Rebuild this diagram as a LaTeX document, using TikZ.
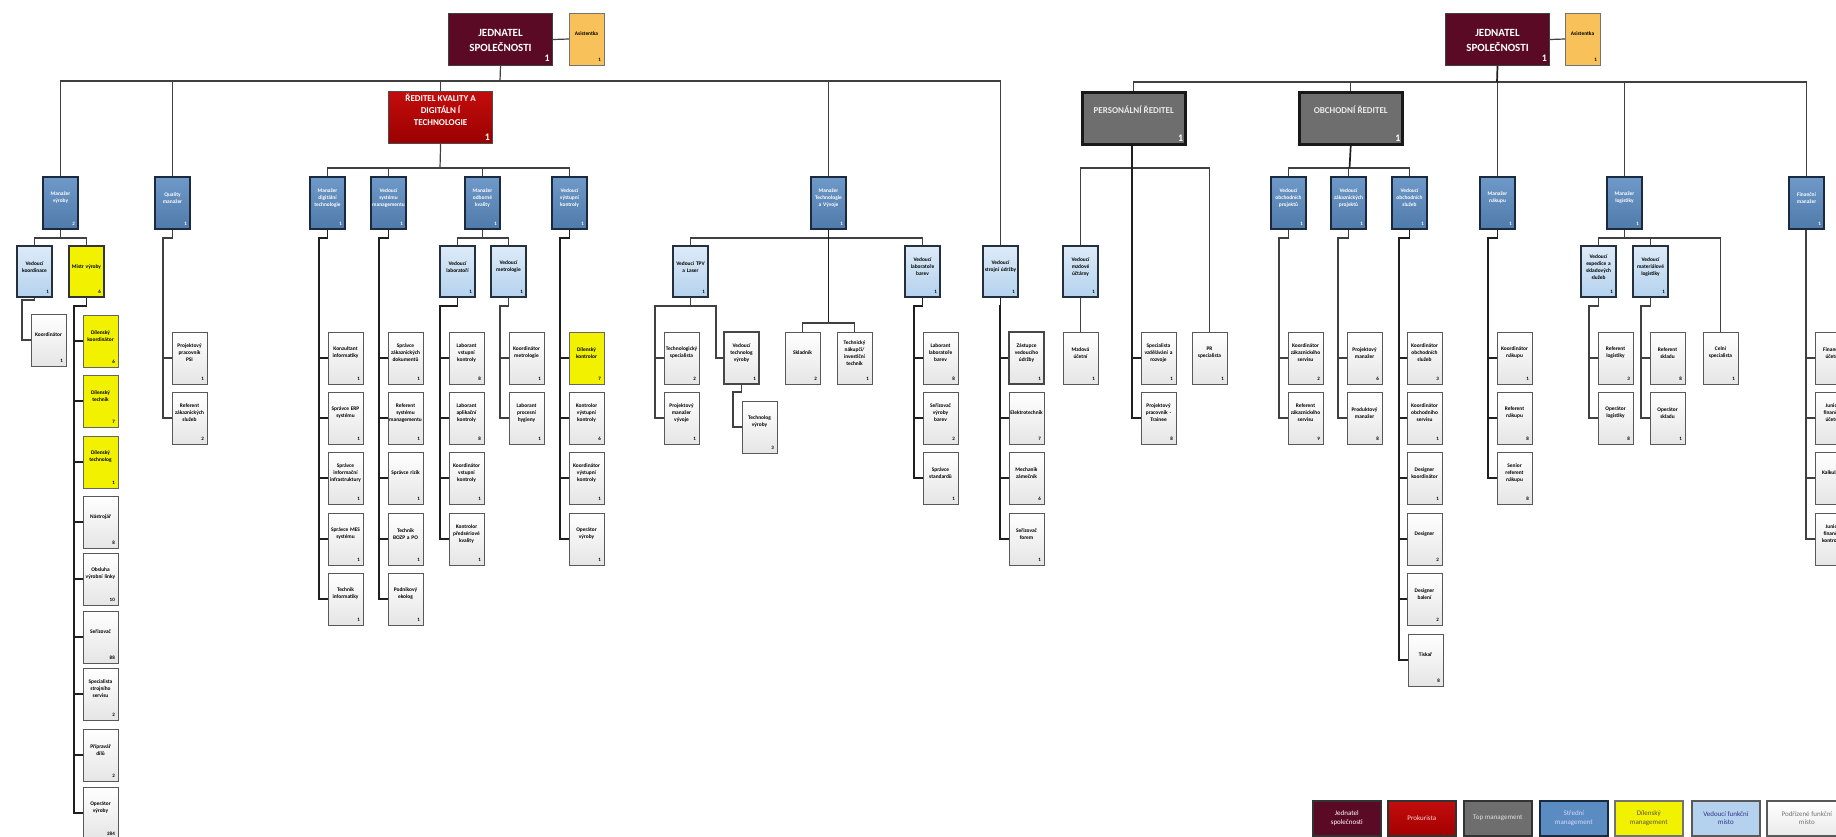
\documentclass[tikz,border=0pt]{standalone}
\usepackage{fontspec}
\setmainfont{Carlito}
\pgfdeclarelayer{bg}
\pgfsetlayers{bg,main}
\definecolor{jed}{HTML}{5A0A24}
\definecolor{asis}{HTML}{F8C15A}
\definecolor{prok}{HTML}{C00000}
\definecolor{topm}{HTML}{6E6E6E}
\definecolor{mid}{HTML}{5A8BC1}
\definecolor{midd}{HTML}{1C2A3F}
\definecolor{dil}{HTML}{F2F200}
\definecolor{ved}{HTML}{B4D2EE}
\definecolor{vedd}{HTML}{24303E}
\definecolor{ln}{HTML}{404040}
\tikzset{
 bx/.style={rectangle, inner sep=0pt, outer sep=0pt, minimum width=35pt, minimum height=52pt},
 wb/.style={bx, draw=black!65, line width=1pt, top color=white, bottom color=black!10},
 wbk/.style={wb, draw=black!72, line width=2.6pt},
 yb/.style={bx, fill=dil, draw=black!60, line width=1pt},
 ybs/.style={yb, minimum height=51pt, draw=black!80, line width=2pt},
 ab/.style={bx, fill=asis, draw=black!55, line width=1pt},
 mb/.style={bx, top color=mid!88!white, bottom color=mid!88!black, draw=midd, line width=2pt},
 lb/.style={bx, minimum height=51pt, top color=ved!45!white, bottom color=ved, draw=vedd, line width=2pt},
 tx/.style={font=\bfseries\fontsize{5.4}{7}\selectfont, align=center, text width=34pt, inner sep=0pt, anchor=center},
 nm/.style={font=\bfseries\fontsize{5}{5}\selectfont, inner sep=0pt, anchor=south east},
 bigt/.style={font=\bfseries\fontsize{11}{15}\selectfont, text=white, align=center, inner sep=0pt, anchor=center},
 midt/.style={font=\bfseries\fontsize{9}{12}\selectfont, text=white, align=center, inner sep=0pt, anchor=center},
 bign/.style={font=\bfseries\fontsize{10}{10}\selectfont, text=white, inner sep=0pt, anchor=south east, xshift=-3pt, yshift=4pt},
 cn/.style={draw=ln, line width=1.2pt},
 sp/.style={draw=black!88, line width=1.7pt},
 lg/.style={rectangle, anchor=north west, minimum width=68pt, minimum height=35pt, inner sep=1pt, align=center, font=\fontsize{7}{8.5}\selectfont, line width=1.6pt, draw=black!80},
}
\newcommand\ob[7][black]{%
 \node[#3, anchor=north west,
   label={[tx, text=#1, yshift=-21pt]north:{#6}},
   label={[nm, text=#1, xshift=-3pt, yshift=3.5pt]south east:{#7}}] (#2) at (#4,#5) {};}
\newcommand\tree[5]{%
 \draw[#1] (#2.south) -- ++(0,#3) -| ([xshift=-9pt]#4.west) -- (#4.west);
 \foreach \ch in {#5}{\draw[#1] ([xshift=-9pt]\ch.west) -- (\ch.west);}}
\begin{document}
\begin{tikzpicture}[x=1pt,y=-1pt]
\useasboundingbox (0,0) rectangle (1836,836);
\clip (0,0) rectangle (1836,836);

% ---------- top level ----------
\node[anchor=north west, minimum width=104pt, minimum height=52pt, inner sep=0pt, fill=jed, draw=black!75, line width=1pt,
  label={[bigt, yshift=-27.5pt]north:{JEDNATEL\\SPOLEČNOSTI}}, label={[bign]south east:1}] (jedL) at (448,13) {};
\ob{asiL}{ab}{569}{13}{Asistentka}{1}
\node[anchor=north west, minimum width=104pt, minimum height=52pt, inner sep=0pt, fill=jed, draw=black!75, line width=1pt,
  label={[bigt, yshift=-27.5pt]north:{JEDNATEL\\SPOLEČNOSTI}}, label={[bign]south east:1}] (jedR) at (1445,13) {};
\ob{asiR}{ab}{1565}{13}{Asistentka}{1}
\node[anchor=north west, minimum width=104pt, minimum height=52pt, inner sep=0pt, top color=prok!95!white, bottom color=prok!80!black, draw=black!70, line width=1.2pt,
  label={[midt, yshift=-19pt]north:{ŘEDITEL KVALITY A\\DIGITÁLN Í\\TECHNOLOGIE}}, label={[bign]south east:1}] (redK) at (388,91) {};
\node[anchor=north west, minimum width=103pt, minimum height=52pt, inner sep=0pt, fill=topm, draw=black!90, line width=2.5pt,
  label={[midt, text=black!8, yshift=-19pt]north:{PERSONÁLNÍ ŘEDITEL}}, label={[bign]south east:1}] (persR) at (1081,91) {};
\node[anchor=north west, minimum width=103pt, minimum height=52pt, inner sep=0pt, fill=topm, draw=black!90, line width=2.5pt,
  label={[midt, text=black!8, yshift=-19pt]north:{OBCHODNÍ ŘEDITEL}}, label={[bign]south east:1}] (obchR) at (1298,91) {};

% ---------- middle management ----------
\ob[white]{mVyr}{mb}{43}{177}{Manažer\\výroby}{2}
\ob[white]{mQ}{mb}{155}{177}{Quality\\manažer}{1}
\ob[white]{mDig}{mb}{310}{177}{Manažer\\digitální\\technologie}{1}
\ob[white]{vSys}{mb}{371}{177}{Vedoucí\\systému\\managementu}{1}
\ob[white]{mOdk}{mb}{465}{177}{Manažer\\odborné\\kvality}{1}
\ob[white]{vVyst}{mb}{552}{177}{Vedoucí\\výstupní\\kontroly}{1}
\ob[white]{mTaV}{mb}{811}{177}{Manažer\\Technologie\\a Vývoje}{1}
\ob[white]{vObP}{mb}{1271}{177}{Vedoucí\\obchodních\\projektů}{1}
\ob[white]{vZakP}{mb}{1331}{177}{Vedoucí\\zákaznických\\projektů}{1}
\ob[white]{vObS}{mb}{1392}{177}{Vedoucí\\obchodních\\služeb}{1}
\ob[white]{mNak}{mb}{1480}{177}{Manažer\\nákupu}{1}
\ob[white]{mLog}{mb}{1607}{177}{Manažer\\logistiky}{1}
\ob[white]{mFin}{mb}{1789}{177}{Finanční\\manažer}{1}

% ---------- leading positions ----------
\ob{vKoord}{lb}{17}{246}{Vedoucí\\koordinace}{1}
\ob{mistr}{ybs}{69}{246}{Mistr výroby}{6}
\ob{vLab}{lb}{440}{246}{Vedoucí\\laboratoří}{1}
\ob{vMet}{lb}{491}{246}{Vedoucí\\metrologie}{1}
\ob{vTPV}{lb}{673}{246}{Vedoucí TPV\\a Laser}{1}
\ob{vLabB}{lb}{905}{246}{Vedoucí\\laboratoře\\barev}{1}
\ob{vUdr}{lb}{983}{246}{Vedoucí\\strojní údržby}{1}
\ob{vMzd}{lb}{1063}{246}{Vedoucí\\mzdové\\účtárny}{1}
\ob{vExp}{lb}{1581}{246}{Vedoucí\\expedice a\\skladových\\služeb}{1}
\ob{vMat}{lb}{1633}{246}{Vedoucí\\materiálové\\logistiky}{1}

% ---------- subordinate positions ----------
\ob{koord}{wb}{31}{314}{Koordinátor}{1}
\ob{m1}{yb}{83}{315}{Dílenský\\koordinátor}{6}
\ob{m2}{yb}{83}{375}{Dílenský\\technik}{7}
\ob{m3}{yb}{83}{436}{Dílenský\\technolog}{1}
\ob{m4}{wb}{83}{496}{Nástrojář}{8}
\ob{m5}{wb}{83}{553}{Obsluha\\výrobní linky}{10}
\ob{m6}{wb}{83}{611}{Seřizovač}{88}
\ob{m7}{wb}{83}{668}{Specialista\\strojního\\servisu}{2}
\ob{m8}{wb}{83}{729}{Přípravář\\dílů}{2}
\ob{m9}{wb}{83}{787}{Operátor\\výroby}{284}

\ob{q1}{wb}{172}{332}{Projektový\\pracovník\\PSI}{1}
\ob{q2}{wb}{172}{392}{Referent\\zákaznických\\služeb}{2}

\ob{d1}{wb}{328}{332}{Konzultant\\informatiky}{1}
\ob{d2}{wb}{328}{392}{Správce ERP\\systému}{1}
\ob{d3}{wb}{328}{452}{Správce\\informační\\infrastruktury}{1}
\ob{d4}{wb}{328}{513}{Správce MES\\systému}{1}
\ob{d5}{wb}{328}{573}{Technik\\informatiky}{1}

\ob{s1}{wb}{388}{332}{Správce\\zákaznických\\dokumentů}{1}
\ob{s2}{wb}{388}{392}{Referent\\systému\\managementu}{1}
\ob{s3}{wb}{388}{452}{Správce rizik}{1}
\ob{s4}{wb}{388}{513}{Technik\\BOZP a PO}{1}
\ob{s5}{wb}{388}{573}{Podnikový\\ekolog}{1}

\ob{l1}{wb}{449}{332}{Laborant\\vstupní\\kontroly}{8}
\ob{l2}{wb}{449}{392}{Laborant\\aplikační\\kontroly}{8}
\ob{l3}{wb}{449}{452}{Koordinátor\\vstupní\\kontroly}{1}
\ob{l4}{wb}{449}{513}{Kontrolor\\předsériové\\kvality}{1}

\ob{e1}{wb}{509}{332}{Koordinátor\\metrologie}{1}
\ob{e2}{wb}{509}{392}{Laborant\\procesní\\hygieny}{1}

\ob{k1}{yb}{569}{332}{Dílenský\\kontrolor}{7}
\ob{k2}{wb}{569}{392}{Kontrolor\\výstupní\\kontroly}{6}
\ob{k3}{wb}{569}{452}{Koordinátor\\výstupní\\kontroly}{1}
\ob{k4}{wb}{569}{513}{Operátor\\výroby}{1}

\ob{t1}{wb}{664}{332}{Technologický\\specialista}{2}
\ob{t2}{wb}{664}{392}{Projektový\\manažer\\vývoje}{1}
\ob{vTech}{wbk}{724}{332}{Vedoucí\\technolog\\výroby}{1}
\ob{tech}{wb}{742}{401}{Technolog\\výroby}{3}
\ob{skl}{wb}{785}{332}{Skladník}{2}
\ob{tni}{wb}{837}{332}{Technický\\nákupčí/\\investiční\\technik}{1}

\ob{b1}{wb}{923}{332}{Laborant\\laboratoře\\barev}{8}
\ob{b2}{wb}{923}{392}{Seřizovač\\výroby\\barev}{2}
\ob{b3}{wb}{923}{452}{Správce\\standardů}{1}

\ob{u1}{wbk}{1009}{332}{Zástupce\\vedoucího\\údržby}{1}
\ob{u2}{wb}{1009}{392}{Elektrotechnik}{7}
\ob{u3}{wb}{1009}{452}{Mechanik\\zámečník}{6}
\ob{u4}{wb}{1009}{513}{Seřizovač\\forem}{1}

\ob{mzd}{wb}{1063}{332}{Mzdová\\účetní}{1}
\ob{p1}{wb}{1141}{332}{Specialista\\vzdělávání a\\rozvoje}{1}
\ob{p2}{wb}{1141}{392}{Projektový\\pracovník -\\Trainee}{8}
\ob{prS}{wb}{1192}{332}{PR\\specialista}{1}

\ob{o1}{wb}{1288}{332}{Koordinátor\\zákaznického\\servisu}{2}
\ob{o2}{wb}{1288}{392}{Referent\\zákaznického\\servisu}{9}
\ob{z1}{wb}{1347}{332}{Projektový\\manažer}{6}
\ob{z2}{wb}{1347}{392}{Produktový\\manažer}{8}

\ob{c1}{wb}{1407}{332}{Koordinátor\\obchodních\\služeb}{3}
\ob{c2}{wb}{1407}{392}{Koordinátor\\obchodního\\servisu}{1}
\ob{c3}{wb}{1407}{452}{Designer\\koordinátor}{1}
\ob{c4}{wb}{1407}{513}{Designer}{2}
\ob{c5}{wb}{1407}{573}{Designer\\balení}{2}
\ob{c6}{wb}{1408}{634}{Tiskař}{8}

\ob{n1}{wb}{1497}{332}{Koordinátor\\nákupu}{1}
\ob{n2}{wb}{1497}{392}{Referent\\nákupu}{8}
\ob{n3}{wb}{1497}{452}{Senior\\referent\\nákupu}{8}

\ob{x1}{wb}{1598}{332}{Referent\\logistiky}{3}
\ob{x2}{wb}{1598}{392}{Operátor\\logistiky}{8}
\ob{a1}{wb}{1650}{332}{Referent\\skladu}{8}
\ob{a2}{wb}{1650}{392}{Operátor\\skladu}{1}
\ob{celni}{wb}{1703}{332}{Celní\\specialista}{1}

\ob{f1}{wb}{1815}{332}{Finanční\\účetní}{}
\ob{f2}{wb}{1815}{392}{Junior\\finanční\\účetní}{}
\ob{f3}{wb}{1815}{452}{Kalkulant}{}
\ob{f4}{wb}{1815}{513}{Junior\\finanční\\kontrolor}{}

% ---------- legend ----------
\node[lg, fill=jed, text=white] (lg1) at (1312,800) {Jednatel\\společnosti};
\node[lg, top color=prok!95!white, bottom color=prok!85!black, text=white!85!red] (lg2) at (1387,800) {Prokurista};
\node[lg, fill=topm, text=black!12] (lg3) at (1463,800) {Top management};
\node[lg, fill=mid, draw=midd, text=white!85!blue] (lg4) at (1539,800) {Střední\\management};
\node[lg, fill=dil, draw=black!55, text=black!75!yellow] (lg5) at (1614,800) {Dílenský\\management};
\node[lg, fill=ved, draw=black!65, text=black!45!blue!60!gray] (lg6) at (1691,800) {Vedoucí funkční\\místo};
\node[lg, minimum width=80pt, top color=white, bottom color=black!8, draw=black!65, text=black!55] (lg7) at (1766,800) {Podřízené funkční\\místo};

% ---------- connectors ----------
\begin{pgfonlayer}{bg}
\fill[white] (0,0) rectangle (1836,836);
\draw[cn] (jedL.east) -- (asiL.west);
\draw[cn] (jedR.east) -- (asiR.west);
\coordinate (bL) at (500,81);
\draw[cn] (mVyr.north) |- (bL) -| (vUdr.north);
\draw[cn] (jedL.south) -- (bL);
\foreach \n in {mQ,redK,mTaV} \draw[cn] (\n.north) -- (\n.north |- bL);
\coordinate (bR) at (1497,82);
\draw[cn] (persR.north) |- (bR) -| (mFin.north);
\draw[sp] (jedR.south) -- (bR);
\foreach \n in {obchR,mNak,mLog} \draw[cn] (\n.north) -- (\n.north |- bR);
\coordinate (bK) at (440,168);
\draw[cn] (mDig.north) |- (bK) -| (vVyst.north);
\draw[cn] (redK.south) -- (bK);
\foreach \n in {vSys,mOdk} \draw[cn] (\n.north) -- (\n.north |- bK);
\coordinate (bV) at (60.5,238);
\draw[cn] (vKoord.north) |- (bV) -| (mistr.north);
\draw[cn] (mVyr.south) -- (bV);
\coordinate (bQ) at (482.5,238);
\draw[cn] (vLab.north) |- (bQ) -| (vMet.north);
\draw[cn] (mOdk.south) -- (bQ);
\coordinate (bT) at (828.5,238);
\draw[cn] (vTPV.north) |- (bT) -| (vLabB.north);
\coordinate (bT2) at (828.5,323);
\draw[sp] (mTaV.south) -- (bT2);
\draw[cn] (skl.north) |- (bT2) -| (tni.north);
\coordinate (bP) at (1132.5,168);
\draw[cn] (vMzd.north) |- (bP) -| (prS.north);
\coordinate (bO) at (1349.5,168);
\draw[cn] (vObP.north) |- (bO) -| (vObS.north);
\draw[sp] (obchR.south) -- (bO);
\draw[cn] (vZakP.north) -- (vZakP.north |- bO);
\coordinate (bG) at (1624.5,238);
\draw[cn] (vExp.north) |- (bG) -| (celni.north);
\draw[cn] (mLog.south) -- (bG);
\draw[cn] (vMat.north) -- (vMat.north |- bG);
\draw[cn] (vMzd.south) -- (mzd.north);
\tree{cn}{vKoord}{3}{koord}{koord}
\tree{sp}{mistr}{9}{m9}{m1,m2,m3,m4,m5,m6,m7,m8}
\tree{cn}{mQ}{9}{q2}{q1}
\tree{sp}{mDig}{9}{d5}{d1,d2,d3,d4}
\tree{sp}{vSys}{9}{s5}{s1,s2,s3,s4}
\tree{sp}{vLab}{9}{l4}{l1,l2,l3}
\tree{cn}{vMet}{9}{e2}{e1}
\tree{sp}{vVyst}{9}{k4}{k1,k2,k3}
\tree{cn}{vTPV}{9}{t2}{t1}
\draw[cn] (vTPV.south) -- ++(0,9) -| ([xshift=-8pt]vTech.west) -- (vTech.west);
\tree{cn}{vTech}{8}{tech}{tech}
\tree{sp}{vLabB}{9}{b3}{b1,b2}
\tree{sp}{vUdr}{9}{u4}{u1,u2,u3}
\tree{sp}{persR}{0}{p2}{p1}
\tree{cn}{vObP}{9}{o2}{o1}
\tree{cn}{vZakP}{9}{z2}{z1}
\tree{sp}{vObS}{9}{c6}{c1,c2,c3,c4,c5}
\tree{sp}{mNak}{9}{n3}{n1,n2}
\tree{cn}{vExp}{9}{x2}{x1}
\tree{cn}{vMat}{9}{a2}{a1}
\tree{cn}{mFin}{0}{f4}{f1,f2,f3}
\end{pgfonlayer}
\end{tikzpicture}
\end{document}
